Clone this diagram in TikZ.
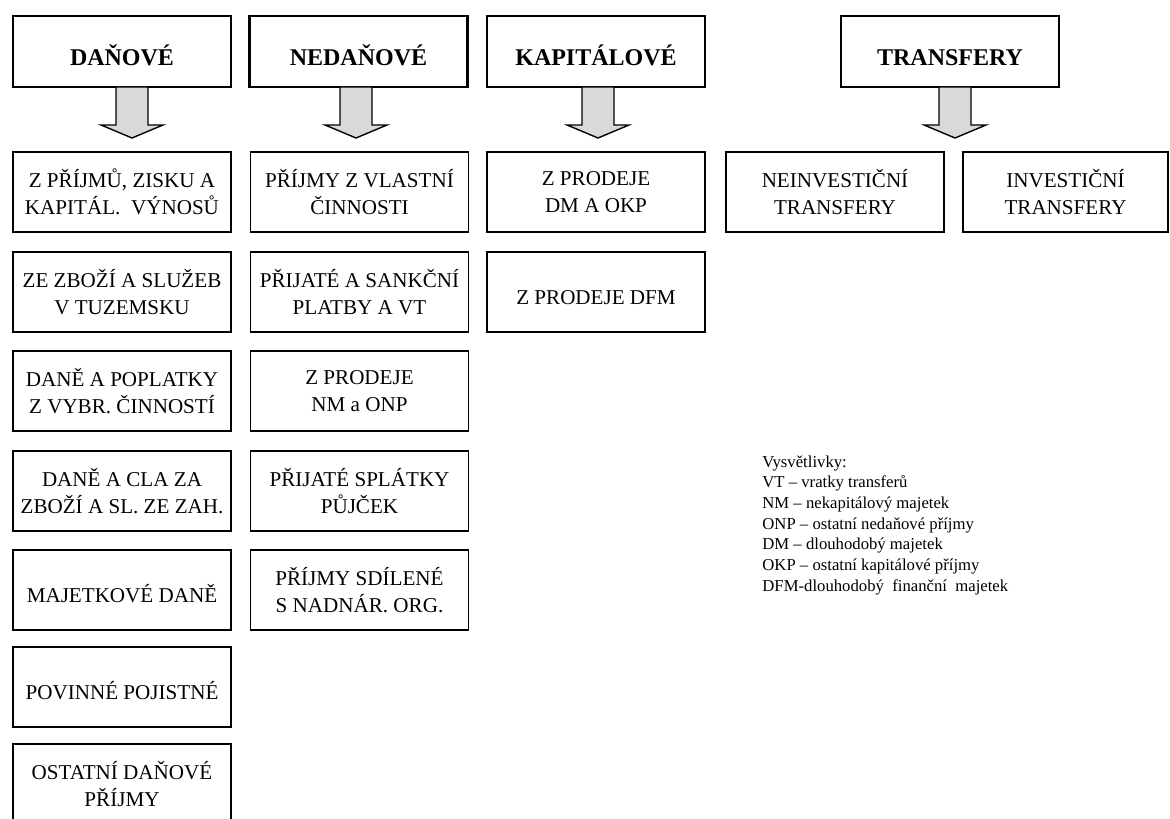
\documentclass[tikz,border=0pt]{standalone}
\usepackage{fontspec}
\setmainfont{Liberation Serif}
\usetikzlibrary{calc}
\definecolor{arrowgray}{RGB}{217,217,217}
\begin{document}
\begin{tikzpicture}[x=0.5pt,y=-0.5pt,
  head/.style={draw, line width=1.35pt, minimum width=109pt, minimum height=35.5pt, inner sep=0pt, outer sep=0pt, text height=14.5pt, text depth=0pt, font=\fontsize{12}{14}\selectfont\bfseries},
  item/.style={draw, line width=0.75pt, minimum width=109pt, minimum height=40pt, inner sep=0pt, outer sep=0pt, align=center, font=\fontsize{10.55}{13.5}\selectfont},
  oneline/.style={text height=12pt, text depth=0pt},
  blockarrow/.style={draw, line width=0.7pt, fill=arrowgray, line join=miter},
  legend/.style={anchor=north west, inner sep=0pt, align=left, font=\fontsize{8.35}{10.35}\selectfont}]
\useasboundingbox (0,0) rectangle (1170,818);
\clip (0,0) rectangle (1170,818);
% headings
\node[head] (dan) at (122,51.5) {DAŇOVÉ};
\node[head] (ned) at (358.5,51.5) {NEDAŇOVÉ};
\node[head] (kap) at (596,51.5) {KAPITÁLOVÉ};
\node[head] (tra) at (950,51.5) {TRANSFERY};
% block arrows
\foreach \n/\dx in {dan/10, ned/-2.5, kap/2, tra/5} {
  \draw[blockarrow] ($(\n.south)+(\dx-16,0)$) -- ++(0,38) -- ++(-15,0) -- ++(31,13) -- ++(31,-13) -- ++(-15,0) -- ++(0,-38) -- cycle;
}
% column 1
\node[item] (d1) at (122,192) {Z PŘÍJMŮ, ZISKU A\\KAPITÁL.\ \ VÝNOSŮ};
\node[item] (d2) at (122,292) {ZE ZBOŽÍ A SLUŽEB\\V TUZEMSKU};
\node[item] (d3) at (122,391) {DANĚ A POPLATKY\\Z VYBR. ČINNOSTÍ};
\node[item] (d4) at (122,491) {DANĚ A CLA ZA\\ZBOŽÍ A SL. ZE ZAH.};
\node[item, oneline] (d5) at (122,590) {MAJETKOVÉ DANĚ};
\node[item, oneline] (d6) at (122,687) {POVINNÉ POJISTNÉ};
\node[item] (d7) at (122,784) {OSTATNÍ DAŇOVÉ\\PŘÍJMY};
% column 2
\node[item] (n1) at (359.5,192) {PŘÍJMY Z VLASTNÍ\\ČINNOSTI};
\node[item] (n2) at (359.5,292) {PŘIJATÉ A SANKČNÍ\\PLATBY A VT};
\node[item] (n3) at (359.5,391) {Z PRODEJE\\NM a ONP};
\node[item] (n4) at (359.5,491) {PŘIJATÉ SPLÁTKY\\PŮJČEK};
\node[item] (n5) at (359.5,590) {PŘÍJMY SDÍLENÉ\\S NADNÁR. ORG.};
% column 3
\node[item] (k1) at (596,192) {Z PRODEJE\\DM A OKP};
\node[item, oneline] (k2) at (596,292) {Z PRODEJE DFM};
% transfers
\node[item] (t1) at (835,192) {NEINVESTIČNÍ\\TRANSFERY};
\node[item, minimum width=102.5pt] (t2) at (1065.5,192) {INVESTIČNÍ\\TRANSFERY};
% legend
\node[legend] (leg) at (762,455) {Vysvětlivky:\\VT – vratky transferů\\NM – nekapitálový majetek\\ONP – ostatní nedaňové příjmy\\DM – dlouhodobý majetek\\OKP – ostatní kapitálové příjmy\\DFM-dlouhodobý\ \ finanční\ \ majetek};
\end{tikzpicture}
\end{document}
